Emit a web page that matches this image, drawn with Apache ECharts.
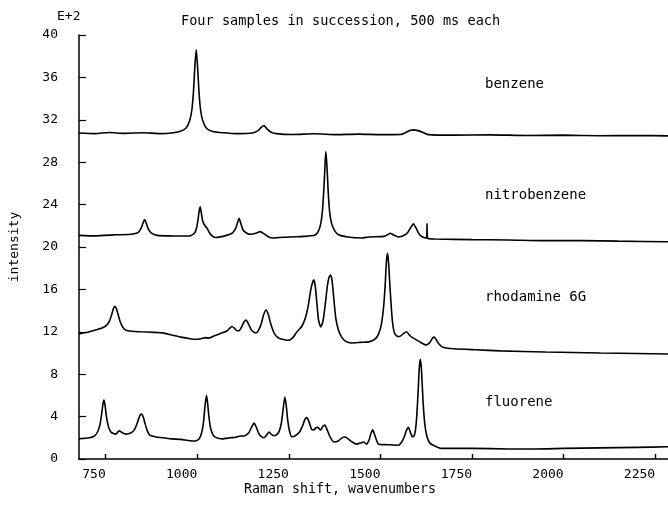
<!DOCTYPE html>
<html>
<head>
<meta charset="utf-8">
<script src="https://cdn.jsdelivr.net/npm/echarts@6/dist/echarts.min.js"></script>
<style>html,body{margin:0;padding:0;background:#fff}#c{width:668px;height:506px}</style>
</head>
<body>
<div id="c"></div>
<script>
const xTicks = [750, 1000, 1250, 1500, 1750, 2000, 2250];
const sampleNames = ['benzene', 'nitrobenzene', 'rhodamine 6G', 'fluorene'];

const benzene = [
[677,30.75],[720,30.7],[760,30.8],[800,30.72],[850,30.78],[900,30.7],[930,30.76],[952,30.9],[969,31.2],[979,31.9],
[985,32.9],[989.5,34.65],[993,36.85],[997,38.6],[1001,36.85],[1004.5,34.65],[1009,32.9],[1015,31.9],[1025,31.2],[1042,30.9],
[1070,30.78],[1110,30.7],[1150,30.75],[1165,30.95],[1175,31.3],[1182,31.45],[1190,31.15],[1200,30.85],[1215,30.7],[1260,30.62],
[1320,30.68],[1380,30.6],[1440,30.65],[1500,30.6],[1555,30.62],[1568,30.78],[1580,30.98],[1590,31.05],[1602,30.98],[1615,30.82],
[1630,30.6],[1700,30.55],[1800,30.58],[1900,30.52],[2000,30.55],[2100,30.5],[2200,30.52],[2285,30.48]
];

const nitrobenzene = [
[677,21.1],[720,21.05],[780,21.15],[820,21.2],[838,21.35],[847,21.8],[852,22.3],[856,22.6],[860,22.3],[866,21.7],
[875,21.3],[890,21.1],[930,21.05],[979,21.04],[992,21.3],[998,21.8],[1002,22.6],[1005,23.4],[1008,23.8],[1011,23.2],
[1015,22.4],[1020,22.05],[1026,21.8],[1034,21.3],[1042,21.0],[1050,20.9],[1075,21.05],[1095,21.3],[1104,21.7],[1109,22.2],
[1114,22.7],[1119,22.2],[1125,21.6],[1135,21.3],[1145,21.2],[1160,21.3],[1172,21.45],[1182,21.25],[1195,20.95],[1206,20.85],
[1250,20.95],[1290,21.0],[1320,21.1],[1330,21.45],[1337,22.2],[1342,23.6],[1346,25.8],[1349,28.0],[1351,29.0],[1354,27.6],
[1357,25.4],[1361,23.4],[1366,22.3],[1374,21.6],[1386,21.15],[1410,20.95],[1449,20.85],[1468,20.95],[1510,21.0],[1519,21.15],
[1527,21.3],[1535,21.15],[1549,20.95],[1565,21.1],[1575,21.4],[1583,21.85],[1590,22.2],[1597,21.8],[1605,21.25],[1615,20.95],
[1626,20.85],[1627.2,22.2],[1628.2,22.2],[1629,20.8],[1650,20.75],[1750,20.7],[1850,20.66],[1950,20.6],[2050,20.6],[2150,20.55],
[2285,20.5]
];

const rhodamine = [
[677,11.8],[700,11.95],[720,12.15],[740,12.35],[752,12.6],[760,13.0],[766,13.6],[771,14.2],[775,14.4],[779,14.2],
[784,13.6],[790,12.9],[797,12.4],[805,12.15],[820,12.05],[845,12.0],[880,11.95],[905,11.9],[930,11.7],[955,11.5],
[980,11.35],[995,11.3],[1010,11.35],[1022,11.45],[1030,11.4],[1045,11.6],[1068,11.9],[1082,12.1],[1090,12.4],[1095,12.5],
[1101,12.35],[1108,12.1],[1114,12.1],[1120,12.4],[1127,12.9],[1133,13.1],[1139,12.8],[1147,12.2],[1155,11.95],[1161,11.9],
[1168,12.2],[1175,12.8],[1181,13.6],[1188,14.05],[1194,13.6],[1200,12.8],[1208,12.0],[1215,11.6],[1223,11.4],[1238,11.25],
[1250,11.2],[1262,11.5],[1270,11.9],[1277,12.2],[1285,12.5],[1295,13.3],[1303,14.5],[1310,16.0],[1315,16.7],[1318,16.9],
[1322,16.3],[1327,14.5],[1331,13.1],[1337,12.45],[1343,13.0],[1349,14.5],[1355,16.3],[1360,17.2],[1364,17.35],[1368,16.8],
[1373,15.0],[1378,13.3],[1385,12.2],[1394,11.5],[1405,11.1],[1421,10.95],[1445,11.0],[1468,11.05],[1485,11.3],[1495,11.8],
[1503,12.8],[1509,14.5],[1513,16.5],[1516,18.5],[1519,19.4],[1522,18.6],[1525,16.8],[1529,14.6],[1533,12.9],[1538,11.9],
[1545,11.6],[1552,11.55],[1562,11.8],[1571,12.0],[1580,11.65],[1590,11.4],[1605,11.1],[1625,10.75],[1635,11.0],[1642,11.4],
[1647,11.5],[1653,11.2],[1661,10.8],[1671,10.55],[1700,10.4],[1760,10.3],[1829,10.2],[1950,10.1],[2100,10.0],[2200,9.95],
[2285,9.9]
];

const fluorene = [
[677,1.9],[690,1.95],[705,2.0],[718,2.15],[727,2.5],[734,3.2],[739,4.3],[742,5.1],[745,5.55],[748,5.1],
[752,4.0],[757,3.1],[764,2.55],[771,2.4],[778,2.35],[783,2.55],[788,2.65],[794,2.5],[805,2.35],[818,2.45],
[828,2.75],[835,3.3],[841,3.9],[845,4.2],[848,4.25],[852,4.0],[857,3.4],[863,2.7],[870,2.25],[885,2.1],
[905,2.0],[930,1.9],[955,1.85],[975,1.75],[995,1.7],[1005,1.9],[1012,2.5],[1017,3.5],[1021,5.0],[1025,6.0],
[1028,5.3],[1032,3.9],[1037,2.8],[1047,2.1],[1068,1.9],[1090,2.0],[1105,2.05],[1114,2.15],[1130,2.2],[1141,2.5],
[1148,3.0],[1155,3.4],[1161,3.0],[1168,2.4],[1175,2.1],[1182,2.0],[1190,2.3],[1196,2.55],[1203,2.3],[1212,2.2],
[1222,2.5],[1229,3.3],[1234,4.6],[1239,5.85],[1243,5.0],[1247,3.6],[1252,2.6],[1258,2.1],[1268,2.2],[1280,2.6],
[1288,3.2],[1294,3.75],[1299,3.9],[1305,3.5],[1312,2.8],[1318,2.75],[1324,2.95],[1329,3.0],[1334,2.8],[1337,2.75],
[1342,3.05],[1348,3.2],[1354,2.8],[1362,2.1],[1373,1.6],[1385,1.7],[1393,1.95],[1402,2.1],[1412,1.9],[1423,1.6],
[1435,1.4],[1445,1.5],[1454,1.6],[1462,1.4],[1469,1.8],[1474,2.4],[1479,2.75],[1484,2.3],[1490,1.7],[1495,1.4],
[1520,1.35],[1549,1.3],[1558,1.6],[1565,2.1],[1571,2.7],[1576,3.0],[1581,2.6],[1586,2.15],[1590,2.1],[1595,2.6],
[1599,4.0],[1603,6.5],[1606,8.6],[1609,9.4],[1612,8.4],[1616,5.6],[1621,3.3],[1627,2.1],[1635,1.5],[1650,1.2],
[1666,1.0],[1750,1.0],[1850,0.95],[1919,0.95],[2000,1.0],[2100,1.05],[2200,1.1],[2285,1.15]
];

const spectra = [benzene, nitrobenzene, rhodamine, fluorene];
const FONT = '"DejaVu Sans Mono", "Liberation Mono", monospace';

const chart = echarts.init(document.getElementById('c'), null, {renderer: 'canvas'});
const labelTops = [85, 196, 298, 403];

const lineSeries = spectra.map((d, i) => ({
  name: sampleNames[i], type: 'line', data: d, showSymbol: false, smooth: 0.2,
  lineStyle: {color: '#000', width: 1.6}, z: 2
}));

chart.setOption({
  animation: false,
  backgroundColor: '#fff',
  grid: {left: 76, right: 0, top: 35, bottom: 47},
  xAxis: {
    type: 'value', min: 677, max: 2285,
    axisLine: {lineStyle: {color: '#000', width: 1.5}},
    axisTick: {show: true, inside: true, length: 5, customValues: xTicks, lineStyle: {color: '#000', width: 1.4}},
    axisLabel: {customValues: xTicks, align: 'right', margin: 9, color: '#000', fontFamily: FONT, fontSize: 13,
      formatter: v => String(v)},
    splitLine: {show: false}
  },
  yAxis: {
    type: 'value', min: 0, max: 40, interval: 4,
    name: 'intensity', nameLocation: 'middle', nameGap: 58, nameRotate: 90,
    nameTextStyle: {color: '#000', fontFamily: FONT, fontSize: 13},
    axisLine: {lineStyle: {color: '#000', width: 1.5}},
    axisTick: {inside: true, length: 7, lineStyle: {color: '#000', width: 1.2}},
    axisLabel: {margin: 21, color: '#000', fontFamily: FONT, fontSize: 13},
    splitLine: {show: false}
  },
  graphic: [
    {type: 'text', left: 181, top: 14, style: {text: 'Four samples in succession, 500 ms each', font: '13.6px ' + FONT, fill: '#000'}},
    {type: 'text', left: 57, top: 10, style: {text: 'E+2', font: '13px ' + FONT, fill: '#000'}},
    {type: 'text', left: 244, top: 483, style: {text: 'Raman shift, wavenumbers', font: '13.3px ' + FONT, fill: '#000'}}
  ].concat(sampleNames.map((n, i) => ({type: 'text', left: 485, top: labelTops[i] - 8, style: {text: n, font: '14px ' + FONT, fill: '#000'}}))),
  series: lineSeries
});
</script>
</body>
</html>
